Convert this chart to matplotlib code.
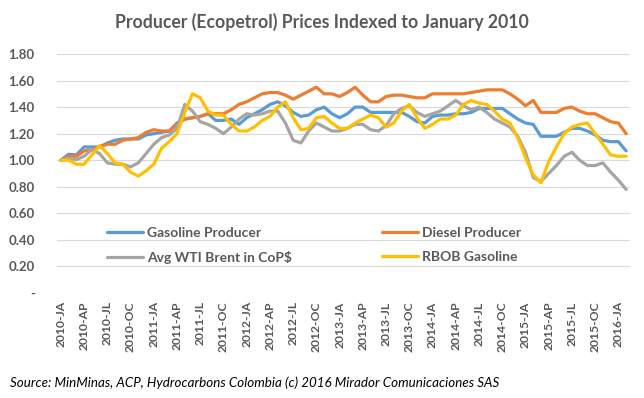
import matplotlib
matplotlib.use("Agg")
import matplotlib.pyplot as plt
import numpy as np

month_codes = ["JA", "FE", "MR", "AP", "MY", "JN", "JL", "AU", "SE", "OC", "NO", "DE"]
categories = [f"{2010 + k // 12}-{month_codes[k % 12]}" for k in range(74)]

gasoline_producer = [
    1.00, 1.045, 1.04, 1.10, 1.10, 1.10, 1.13, 1.15, 1.16, 1.16, 1.16, 1.19,
    1.20, 1.21, 1.22, 1.28, 1.31, 1.32, 1.33, 1.35, 1.30, 1.30, 1.31, 1.27,
    1.32, 1.35, 1.38, 1.42, 1.44, 1.41, 1.36, 1.33, 1.34, 1.38, 1.40, 1.35,
    1.32, 1.35, 1.40, 1.40, 1.36, 1.36, 1.36, 1.36, 1.36, 1.33, 1.29, 1.28,
    1.33, 1.34, 1.34, 1.35, 1.35, 1.36, 1.39, 1.39, 1.39, 1.39, 1.35, 1.31,
    1.28, 1.27, 1.18, 1.18, 1.18, 1.21, 1.24, 1.24, 1.22, 1.19, 1.15, 1.14,
    1.14, 1.07]
diesel_producer = [
    1.00, 1.03, 1.03, 1.07, 1.08, 1.10, 1.12, 1.12, 1.15, 1.16, 1.17, 1.21,
    1.23, 1.22, 1.22, 1.27, 1.31, 1.32, 1.33, 1.35, 1.35, 1.35, 1.38, 1.42,
    1.44, 1.47, 1.50, 1.51, 1.51, 1.49, 1.46, 1.49, 1.52, 1.55, 1.50, 1.50,
    1.48, 1.51, 1.55, 1.49, 1.44, 1.44, 1.48, 1.49, 1.49, 1.48, 1.47, 1.47,
    1.50, 1.50, 1.50, 1.50, 1.50, 1.51, 1.52, 1.53, 1.53, 1.53, 1.50, 1.46,
    1.41, 1.45, 1.36, 1.36, 1.36, 1.39, 1.40, 1.37, 1.35, 1.35, 1.32, 1.29,
    1.28, 1.20]
avg_wti_brent = [
    1.00, 1.015, 1.005, 1.03, 1.08, 1.05, 0.98, 0.97, 0.97, 0.95, 0.98, 1.05,
    1.12, 1.17, 1.19, 1.24, 1.42, 1.37, 1.29, 1.27, 1.24, 1.20, 1.25, 1.31,
    1.35, 1.34, 1.35, 1.37, 1.37, 1.28, 1.15, 1.13, 1.22, 1.28, 1.25, 1.22,
    1.22, 1.24, 1.27, 1.27, 1.23, 1.22, 1.26, 1.35, 1.39, 1.41, 1.36, 1.33,
    1.35, 1.37, 1.41, 1.45, 1.41, 1.38, 1.40, 1.36, 1.31, 1.28, 1.25, 1.18,
    1.06, 0.87, 0.84, 0.90, 0.96, 1.03, 1.06, 1.00, 0.96, 0.96, 0.98, 0.91,
    0.85, 0.78]
rbob_gasoline = [
    1.00, 1.00, 0.97, 0.97, 1.04, 1.11, 1.05, 0.98, 0.97, 0.91, 0.88, 0.92,
    0.97, 1.09, 1.14, 1.20, 1.36, 1.50, 1.47, 1.37, 1.34, 1.34, 1.27, 1.22,
    1.22, 1.25, 1.30, 1.33, 1.40, 1.44, 1.32, 1.23, 1.24, 1.32, 1.33, 1.28,
    1.24, 1.24, 1.28, 1.31, 1.34, 1.32, 1.25, 1.28, 1.37, 1.42, 1.32, 1.24,
    1.27, 1.31, 1.31, 1.34, 1.42, 1.45, 1.43, 1.42, 1.37, 1.31, 1.28, 1.17,
    1.02, 0.89, 0.83, 0.99, 1.10, 1.20, 1.25, 1.27, 1.28, 1.20, 1.12, 1.04,
    1.03, 1.03]

series_names = ["Gasoline Producer", "Diesel Producer", "Avg WTI Brent in CoP$", "RBOB Gasoline"]
series_colors = ["#5B9BD5", "#ED7D31", "#A5A5A5", "#FFC000"]

y_ticks = [0.0, 0.2, 0.4, 0.6, 0.8, 1.0, 1.2, 1.4, 1.6, 1.8]
y_tick_labels = ["-", "0.20", "0.40", "0.60", "0.80", "1.00", "1.20", "1.40", "1.60", "1.80"]

title = "Producer (Ecopetrol) Prices Indexed to January 2010"
source = "Source: MinMinas, ACP, Hydrocarbons Colombia (c) 2016 Mirador Comunicaciones SAS"

plt.rcParams['font.family'] = ['Lato', 'DejaVu Sans']
txt = "#595959"

fig = plt.figure(figsize=(6.44, 3.98), dpi=100)
ax = fig.add_axes([57 / 644, 1 - 293 / 398, 573 / 644, 239 / 398])

x = np.arange(len(categories))
lines = {}
for name, vals, col in zip(series_names,
                           [gasoline_producer, diesel_producer, avg_wti_brent, rbob_gasoline],
                           series_colors):
    ln, = ax.plot(x, vals, color=col, lw=2.3, solid_joinstyle='round', solid_capstyle='round',
                  label=name, zorder=3)
    lines[name] = ln

ax.set_xlim(-0.5, len(categories) - 0.5)
ax.set_ylim(0, 1.8)
ax.set_yticks(y_ticks)
ax.set_yticklabels(y_tick_labels, fontsize=9.5, fontweight='bold', color=txt)
tick_pos = x[::3]
ax.set_xticks(tick_pos)
ax.set_xticklabels([categories[i] for i in tick_pos], rotation=90, fontsize=8.7,
                   fontweight='bold', color=txt)
ax.tick_params(axis='both', length=0)
ax.tick_params(axis='y', pad=16)
ax.tick_params(axis='x', pad=6)
ax.grid(axis='y', color='#D9D9D9', lw=0.8, zorder=0)
for s in ax.spines.values():
    s.set_visible(False)

order = ["Gasoline Producer", "Avg WTI Brent in CoP$", "Diesel Producer", "RBOB Gasoline"]
leg = ax.legend([lines[n] for n in order], order, ncol=2, frameon=False,
                loc='upper left', bbox_to_anchor=(0.0775, 0.30),
                prop={'size': 10, 'weight': 'bold'}, labelcolor=txt,
                handlelength=2.6, handletextpad=0.3, columnspacing=6.45,
                labelspacing=0.85, borderaxespad=0)

fig.text(0.5, 1 - 22 / 398, title, ha='center', va='center', fontsize=12.7,
         fontweight='bold', color=txt)
fig.text(10 / 644, 1 - 383 / 398, source, ha='left', va='center', fontsize=9.6,
         style='italic', color='black')

fig.savefig("out.png", dpi=100)
